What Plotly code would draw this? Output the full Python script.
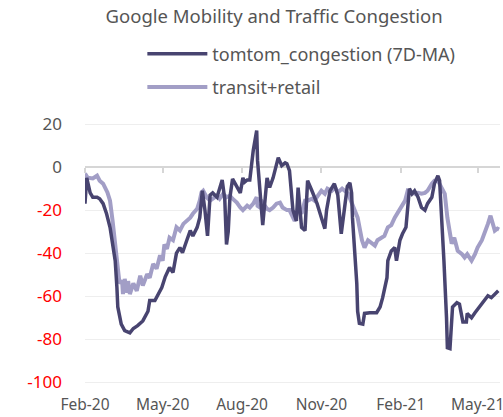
import pandas as pd
import plotly.graph_objects as go

BASE_DATE = "2020-02-01"

# tomtom_congestion (7D-MA): days since 2020-02-01, value
tomtom_days = [0, 2, 6, 9, 14, 17, 21, 25, 29, 32, 35, 37, 38, 42, 46, 52, 56, 61, 67, 73,
               75, 81, 85, 89, 93, 98, 102, 106, 110, 113, 118, 122, 125, 130, 133, 136, 139, 142,
               145, 148, 153, 156, 159, 162, 164, 166, 168, 171, 176, 180, 183, 185, 188, 191,
               195, 199, 200, 203, 206, 211, 214, 218, 222, 224, 228, 232, 234, 237, 241, 245,
               247, 251, 255, 258, 263, 269, 274, 278, 280, 284, 289, 293, 297, 301, 304, 307,
               309, 310, 313, 315, 316, 318, 322, 324, 330, 338, 342, 345, 350, 351, 355, 359,
               361, 365, 368, 372, 376, 379, 382, 386, 390, 394, 397, 402, 405, 409, 411, 413,
               416, 419, 420, 423, 425, 426, 431, 434, 438, 442, 443, 448, 452, 455, 460, 463,
               467, 471, 475, 479]
tomtom_vals = [-17, -5, -12, -14, -14, -14.7, -17, -21.7, -28, -35.6, -43.5, -56, -65, -73, -76, -77, -75, -73.7, -71.5, -67,
               -62, -62, -59, -56, -51, -46.7, -49, -40, -37.4, -39.8, -34, -29.5, -32, -28, -23.5, -11, -20, -32,
               -13, -12, -14, -9.5, -6, -15, -36, -30, -14, -5.5, -9.5, -12, -5, -7, -6, -6,
               7.7, 17, 3, -12.4, -27, -5, -9.5, -5, 2, 4.4, 0.7, 2, 1.6, -1.6, -20, -25,
               -9.5, -28, -29.5, -6.3, -11, -17, -23.5, -28.6, -20, -11, -7.7, -13, -31, -20, -9, -7.3,
               -12, -23.5, -39, -54, -67, -72.6, -73, -68, -67.7, -67.7, -65, -60.7, -51.4, -43.5, -39, -37.4,
               -43.5, -34, -31, -28, -10, -12.4, -11, -14, -18.8, -20, -17, -14, -7.7, -4, -6.3, -20,
               -43.5, -70, -84, -84.4, -74.7, -65, -63, -63.7, -72, -72, -68, -70, -67.7, -66, -63.7, -62,
               -59.8, -60.7, -59, -57.5]

# transit+retail: days since 2020-02-01, value
transit_days = [0, 3, 9, 14, 17, 21, 26, 29, 32, 35, 37, 40, 43, 44, 46, 49, 50, 52, 56, 60,
                64, 67, 72, 75, 79, 83, 87, 90, 92, 95, 98, 102, 106, 110, 114, 118, 122, 125,
                130, 133, 135, 137, 141, 145, 148, 153, 156, 160, 164, 168, 171, 176, 180, 183,
                188, 191, 195, 199, 200, 203, 206, 211, 214, 218, 222, 226, 229, 234, 237, 241,
                243, 247, 251, 255, 258, 263, 266, 270, 274, 278, 281, 286, 290, 293, 298, 301,
                305, 309, 313, 316, 321, 324, 328, 332, 336, 339, 344, 347, 351, 355, 359, 362,
                367, 371, 374, 379, 382, 386, 390, 394, 397, 402, 405, 409, 413, 417, 420, 425,
                428, 432, 437, 440, 443, 448, 452, 455, 460, 463, 467, 470, 472, 475, 478, 480]
transit_vals = [-3, -4.9, -5.3, -4, -6.3, -7.7, -11.8, -15.6, -25, -35.6, -46.7, -54, -52.8, -59, -52, -58.4, -53, -59, -54, -57.5,
                -50.5, -55, -49.8, -51.4, -45, -47.2, -41, -43.5, -36, -38, -32.8, -34, -28, -29.5, -26.4, -25, -23.5, -21.7,
                -19.4, -15.6, -11.8, -11, -14, -15.6, -14.7, -13.3, -14.7, -12.4, -14, -13.3, -14.7, -16.5, -18.8, -20,
                -17.9, -18.8, -17, -14, -18, -18.8, -16.5, -19.4, -20, -18.8, -17, -16.5, -18.8, -20, -20, -23.5,
                -25, -18.8, -21.7, -15.6, -15.6, -14.7, -15.6, -13.3, -11, -12.4, -10, -11, -9.5, -11.8, -10, -11,
                -12.4, -16.5, -20, -23.5, -34, -37.4, -34, -35, -36.5, -34, -32.8, -32, -28, -27, -23.5, -21.7,
                -18.8, -15.6, -11, -12, -12.4, -12, -12.4, -12, -11, -7.7, -6.3, -6.3, -9.5, -12.4, -23.5, -35.6,
                -32.8, -38.9, -40.5, -42, -40.5, -43.5, -40.5, -37.4, -34, -31, -26.4, -22.6, -26, -29.5, -28.6, -29]

y_tickvals = [20, 0, -20, -40, -60, -80, -100]
x_tickvals = ["2020-02-01", "2020-05-01", "2020-08-01", "2020-11-01", "2021-02-01", "2021-05-01"]
x_ticktext = ["Feb-20", "May-20", "Aug-20", "Nov-20", "Feb-21", "May-21"]

base = pd.Timestamp(BASE_DATE)
tomtom_dates = base + pd.to_timedelta(tomtom_days, unit="D")
transit_dates = base + pd.to_timedelta(transit_days, unit="D")

FONT = "Noto Sans"
GREY = "#555555"
DARK = "#484470"
LIGHT = "#a29ec6"

y_ticktext = [f"<span style='color:{'#ff0000' if v < 0 else GREY}'>{v}</span>" for v in y_tickvals]

fig = go.Figure()
fig.add_trace(go.Scatter(x=tomtom_dates, y=tomtom_vals, mode="lines",
                         name="tomtom_congestion (7D-MA)", legendgroup="a", legendrank=1,
                         line=dict(color=DARK, width=3.5)))
fig.add_trace(go.Scatter(x=transit_dates, y=transit_vals, mode="lines",
                         name="transit+retail", legendgroup="b", legendrank=2,
                         line=dict(color=LIGHT, width=4)))
# draw the light line beneath the dark one
fig.data = (fig.data[1], fig.data[0])

y_range = [-105, 27]
zero_frac = (0 - y_range[0]) / (y_range[1] - y_range[0])

fig.update_layout(
    width=503, height=417,
    margin=dict(l=85, r=3, t=109, b=24, autoexpand=False),
    paper_bgcolor="white", plot_bgcolor="white",
    font=dict(family=FONT, color=GREY, size=15),
    title=dict(text="Google Mobility and Traffic Congestion", x=0.545, xanchor="center",
               xref="container", y=0.975, yanchor="top", yref="container",
               font=dict(size=18.5, color=GREY)),
    legend=dict(x=0.283, xanchor="left", y=0.915, yanchor="top", yref="container",
                xref="container", font=dict(size=18, color=GREY), tracegroupgap=7,
                itemwidth=60, bgcolor="rgba(0,0,0,0)"),
    showlegend=True,
    xaxis=dict(type="date", range=["2020-02-01", "2021-05-27"], tickvals=x_tickvals,
               ticktext=x_ticktext, showgrid=False, zeroline=False, showline=False,
               ticks="", ticklabeloverflow="allow", tickfont=dict(size=15.5, color=GREY)),
    xaxis2=dict(type="date", matches="x", overlaying="x", anchor="free", position=zero_frac,
                tickvals=x_tickvals, showticklabels=False, ticks="outside", ticklen=5,
                tickcolor="#d6d6d6", tickwidth=2, showgrid=False, zeroline=False, showline=False),
    yaxis=dict(range=y_range, tickvals=y_tickvals, ticktext=y_ticktext, showgrid=True,
               gridcolor="#eeeeee", gridwidth=1, zeroline=True, zerolinecolor="#d6d6d6",
               zerolinewidth=2, ticklabelstandoff=22, tickfont=dict(size=17)),
)
fig.add_trace(go.Scatter(x=[tomtom_dates[0]], y=[None], xaxis="x2", showlegend=False,
                         hoverinfo="skip"))
fig.write_html("out.html", config={"displayModeBar": False},
               post_script="document.body.style.margin='0';")
